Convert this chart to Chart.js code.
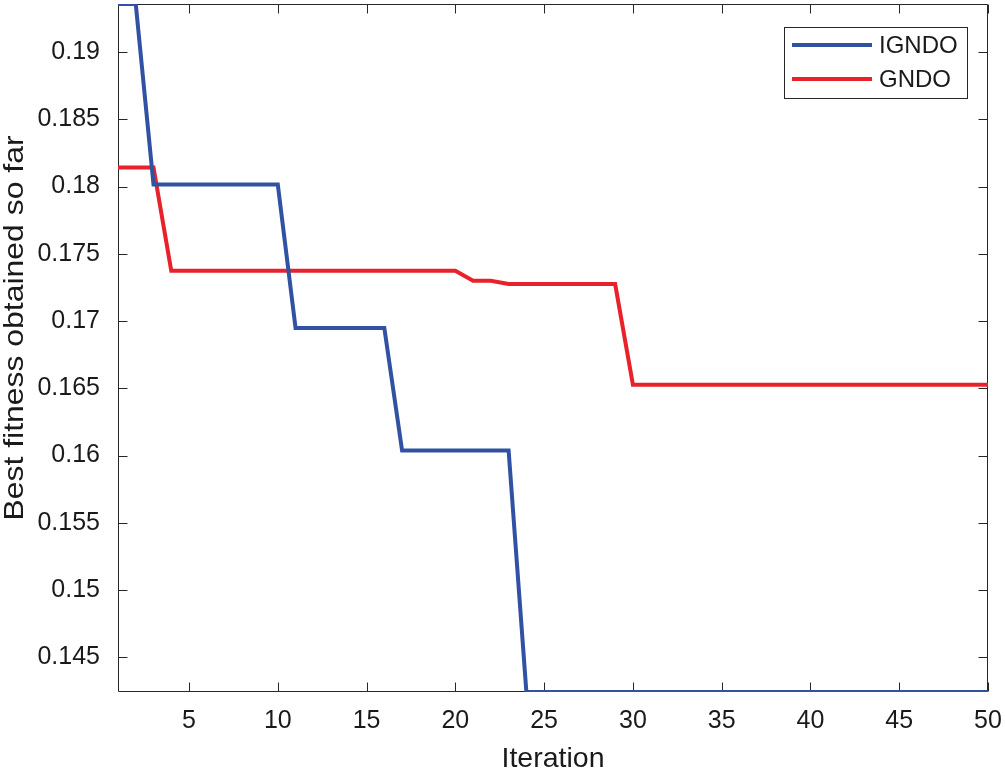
<!DOCTYPE html>
<html>
<head>
<meta charset="utf-8">
<script src="https://cdn.jsdelivr.net/npm/chart.js@4"></script>
<style>
html,body{margin:0;padding:0;background:#fff;}
#wrap{width:1005px;height:773px;}
</style>
</head>
<body>
<div id="wrap"><canvas id="c" width="1005" height="773"></canvas></div>
<script>
const iterations = [1,2,3,4,5,6,7,8,9,10,11,12,13,14,15,16,17,18,19,20,21,22,23,24,25,26,27,28,29,30,31,32,33,34,35,36,37,38,39,40,41,42,43,44,45,46,47,48,49,50];
const ignd = [0.19357,0.19357,
  0.18015,0.18015,0.18015,0.18015,0.18015,0.18015,0.18015,0.18015,
  0.16948,0.16948,0.16948,0.16948,0.16948,0.16948,
  0.16037,0.16037,0.16037,0.16037,0.16037,0.16037,0.16037,
  0.14242,0.14242,0.14242,0.14242,0.14242,0.14242,0.14242,0.14242,0.14242,0.14242,
  0.14242,0.14242,0.14242,0.14242,0.14242,0.14242,0.14242,0.14242,0.14242,0.14242,
  0.14242,0.14242,0.14242,0.14242,0.14242,0.14242,0.14242];
const gndo = [0.18141,0.18141,0.18141,
  0.17374,0.17374,0.17374,0.17374,0.17374,0.17374,0.17374,0.17374,0.17374,0.17374,
  0.17374,0.17374,0.17374,0.17374,0.17374,0.17374,0.17374,
  0.17299,0.17299,
  0.17275,0.17275,0.17275,0.17275,0.17275,0.17275,0.17275,
  0.16527,0.16527,0.16527,0.16527,0.16527,0.16527,0.16527,0.16527,0.16527,0.16527,
  0.16527,0.16527,0.16527,0.16527,0.16527,0.16527,0.16527,0.16527,0.16527,0.16527,0.16527];
const xTicks = [5,10,15,20,25,30,35,40,45,50];
const yTicks = [0.145,0.15,0.155,0.16,0.165,0.17,0.175,0.18,0.185,0.19];
const yTickLabels = ['0.145','0.15','0.155','0.16','0.165','0.17','0.175','0.18','0.185','0.19'];
const seriesNames = ['IGNDO','GNDO'];
const seriesColors = ['#3152A3','#E8212A'];
const xRange = [1,50];
const yRange = [0.14242,0.19357];
const xTitle = 'Iteration';
const yTitle = 'Best fitness obtained so far';

const FONT = '"Liberation Sans", Arial, Helvetica, sans-serif';
const AXC = '#262626';
const TXT = '#1a1a1a';

const boxPlugin = {
  id: 'box',
  beforeDatasetsDraw(chart) {
    const {ctx, chartArea: a, scales} = chart;
    ctx.save();
    ctx.strokeStyle = AXC;
    ctx.lineWidth = 1;
    ctx.beginPath();
    const L = Math.round(a.left)+0.5, R = Math.round(a.right)-0.5, T = Math.round(a.top)+0.5, B = Math.round(a.bottom)-0.5;
    ctx.rect(L, T, R-L, B-T);
    const tl = 9;
    xTicks.forEach(v => {
      const px = Math.round(scales.x.getPixelForValue(v))+0.5;
      ctx.moveTo(px, B); ctx.lineTo(px, B-tl);
      ctx.moveTo(px, T); ctx.lineTo(px, T+tl);
    });
    yTicks.forEach(v => {
      const py = Math.round(scales.y.getPixelForValue(v))+0.5;
      ctx.moveTo(L, py); ctx.lineTo(L+tl, py);
      ctx.moveTo(R, py); ctx.lineTo(R-tl, py);
    });
    ctx.stroke();
    // y axis title (slightly stretched along its length like the reference)
    ctx.fillStyle = TXT;
    ctx.font = '28px ' + FONT;
    ctx.textAlign = 'center';
    ctx.textBaseline = 'middle';
    ctx.translate(15, (a.top + a.bottom) / 2 - 20);
    ctx.rotate(-Math.PI / 2);
    ctx.scale(1.14, 1);
    ctx.fillText(yTitle, 0, 0);
    ctx.restore();
  },
  afterDatasetsDraw(chart) {
    const {ctx, chartArea: a} = chart;
    ctx.save();
    const bx = a.right - 204, by = a.top + 23, bw = 183, bh = 71;
    ctx.fillStyle = '#fff';
    ctx.fillRect(bx, by, bw, bh);
    ctx.strokeStyle = AXC;
    ctx.lineWidth = 1;
    ctx.strokeRect(Math.round(bx)+0.5, Math.round(by)+0.5, bw, bh);
    ctx.font = '24px ' + FONT;
    ctx.textBaseline = 'middle';
    ctx.fillStyle = TXT;
    seriesNames.forEach((n, i) => {
      const y = by + 18 + i*34;
      ctx.strokeStyle = seriesColors[i];
      ctx.lineWidth = 4;
      ctx.beginPath(); ctx.moveTo(bx+8, y); ctx.lineTo(bx+88, y); ctx.stroke();
      ctx.fillText(n, bx+95, y+1);
    });
    ctx.restore();
  }
};

new Chart(document.getElementById('c'), {
  type: 'line',
  data: {
    datasets: [
      {label: seriesNames[0], data: iterations.map((x,i)=>({x, y: ignd[i]})), borderColor: seriesColors[0], borderWidth: 4, pointRadius: 0, tension: 0, fill: false},
      {label: seriesNames[1], data: iterations.map((x,i)=>({x, y: gndo[i]})), borderColor: seriesColors[1], borderWidth: 4, pointRadius: 0, tension: 0, fill: false}
    ]
  },
  options: {
    responsive: false,
    animation: false,
    devicePixelRatio: 1,
    layout: {padding: {top: 4, right: 17, left: 0, bottom: 0}},
    plugins: {legend: {display: false}, tooltip: {enabled: false}},
    scales: {
      x: {
        type: 'linear', min: xRange[0], max: xRange[1],
        grid: {display: false, drawTicks: false},
        border: {display: false},
        afterBuildTicks: s => { s.ticks = xTicks.map(v => ({value: v})); },
        afterFit: s => { s.height = 81; s.paddingLeft = 0; s.paddingRight = 0; s.paddingTop = 0; s.paddingBottom = 0; },
        ticks: {font: {family: FONT, size: 25}, color: TXT, padding: 14, maxRotation: 0, autoSkip: false,
                callback: v => String(v)},
        title: {display: true, text: xTitle, font: {family: FONT, size: 28.5, lineHeight: 1}, color: TXT, padding: {top: 0, bottom: 0}}
      },
      y: {
        type: 'linear', min: yRange[0], max: yRange[1],
        grid: {display: false, drawTicks: false},
        border: {display: false},
        afterBuildTicks: s => { s.ticks = yTicks.map(v => ({value: v})); },
        afterFit: s => { s.width = 118; s.paddingTop = 0; s.paddingBottom = 0; s.paddingLeft = 0; s.paddingRight = 0; },
        ticks: {font: {family: FONT, size: 25}, color: TXT, padding: 18, autoSkip: false,
                callback: (v) => { const i = yTicks.indexOf(v); return i >= 0 ? yTickLabels[i] : ''; }},
        title: {display: false}
      }
    }
  },
  plugins: [boxPlugin]
});
</script>
</body>
</html>
